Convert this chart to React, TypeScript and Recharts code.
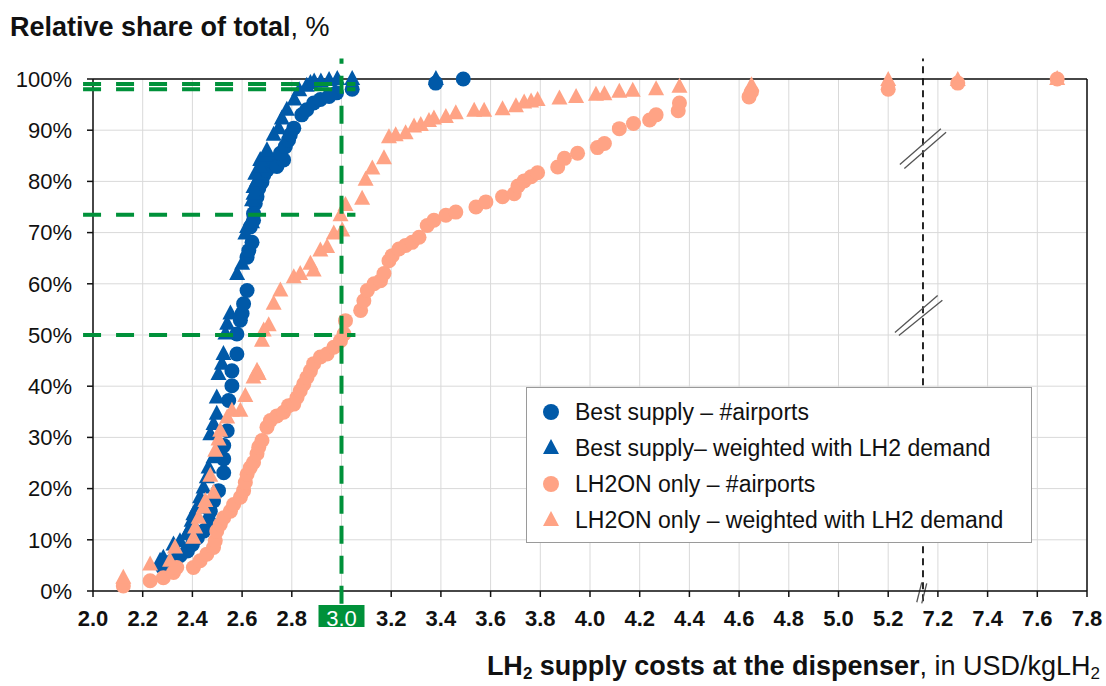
import React from "react";
import { ScatterChart, Scatter, XAxis, YAxis, CartesianGrid, ReferenceLine } from "recharts";

const BLUE = "#0059a8";
const ORANGE = "#ffa385";
const GREEN = "#00913a";
const FONT = "'Liberation Sans', Arial, sans-serif";

// x axis is broken between 5.2 and 7.2 (one tick step wide)
const X_TICK_LABELS = [2.0, 2.2, 2.4, 2.6, 2.8, 3.0, 3.2, 3.4, 3.6, 3.8, 4.0, 4.2, 4.4, 4.6, 4.8, 5.0, 5.2, 7.2, 7.4, 7.6, 7.8];
const Y_TICKS = [0, 10, 20, 30, 40, 50, 60, 70, 80, 90, 100];
const BREAK_LOW = 5.2;
const BREAK_HIGH = 7.2;
const BREAK_SHIFT = BREAK_HIGH - BREAK_LOW - 0.2;

const toAxis = (v: number) => (v >= BREAK_HIGH ? v - BREAK_SHIFT : v);
const fromAxis = (v: number) => (v > BREAK_LOW + 0.1 ? v + BREAK_SHIFT : v);

// [cost USD/kg, cumulative share %]
const bestSupplyAirports: [number, number][] = [
  [2.28, 4.6], [2.31, 3.9], [2.32, 5.9], [2.35, 6.9], [2.38, 7.8], [2.4, 9.1], [2.42, 10.4], [2.445, 11.7],
  [2.465, 13.7], [2.472, 15.6], [2.485, 17.6], [2.505, 19.6], [2.526, 23.1], [2.526, 25.8], [2.526, 28.4],
  [2.54, 31.3], [2.546, 37.2], [2.559, 40.1], [2.559, 43.0], [2.579, 46.3], [2.579, 50.2], [2.593, 52.9],
  [2.6, 54.2], [2.606, 56.1], [2.62, 58.7], [2.62, 65.2], [2.627, 66.5], [2.64, 68.1], [2.633, 71.1],
  [2.646, 72.4], [2.646, 73.7], [2.653, 75.7], [2.66, 77.0], [2.667, 78.6], [2.68, 79.9], [2.687, 81.2],
  [2.7, 82.2], [2.72, 83.9], [2.74, 82.9], [2.767, 84.2], [2.754, 85.5], [2.774, 86.8], [2.787, 88.1],
  [2.794, 89.1], [2.808, 90.4], [2.84, 93.0], [2.86, 94.0], [2.888, 95.3], [2.915, 96.0], [2.95, 96.6],
  [2.98, 97.3], [3.043, 98.0], [3.379, 99.2], [3.49, 100],
];

const bestSupplyWeighted: [number, number][] = [
  [2.27, 5.9], [2.283, 6.5], [2.324, 9.1], [2.35, 9.7], [2.377, 11.1], [2.384, 11.7], [2.397, 13.7],
  [2.404, 15.0], [2.418, 16.3], [2.431, 18.3], [2.445, 20.2], [2.458, 22.2], [2.465, 24.1], [2.485, 26.1],
  [2.472, 30.6], [2.485, 32.6], [2.498, 34.6], [2.498, 37.8], [2.505, 42.4], [2.519, 44.4], [2.525, 46.3],
  [2.533, 50.3], [2.54, 52.2], [2.553, 54.2], [2.58, 61.9], [2.6, 63.9], [2.613, 69.8], [2.62, 71.1],
  [2.64, 72.0], [2.64, 76.3], [2.646, 77.6], [2.646, 78.9], [2.66, 80.2], [2.653, 81.5], [2.673, 82.9],
  [2.673, 84.2], [2.693, 85.1], [2.7, 86.1], [2.727, 89.1], [2.747, 90.4], [2.76, 92.3], [2.78, 94.0],
  [2.81, 96.0], [2.83, 97.8], [2.86, 98.7], [2.875, 99.2], [2.89, 99.5], [2.917, 99.5], [2.95, 99.8],
  [2.983, 100], [3.043, 100], [3.38, 100],
];

const lh2onAirports: [number, number][] = [
  [2.122, 1.0], [2.23, 2.0], [2.283, 2.6], [2.324, 3.6], [2.337, 4.6], [2.404, 4.6], [2.431, 5.9],
  [2.458, 7.2], [2.485, 8.5], [2.492, 9.8], [2.498, 11.7], [2.512, 13.0], [2.526, 14.3], [2.553, 15.6],
  [2.566, 16.9], [2.593, 18.3], [2.606, 19.6], [2.613, 21.2], [2.62, 22.8], [2.633, 24.1], [2.646, 25.1],
  [2.66, 26.8], [2.667, 28.1], [2.68, 29.4], [2.7, 32.0], [2.714, 33.3], [2.74, 34.2], [2.767, 34.9],
  [2.787, 36.2], [2.808, 36.5], [2.821, 37.8], [2.834, 39.1], [2.848, 40.4], [2.861, 41.7], [2.875, 43.0],
  [2.888, 44.4], [2.915, 45.7], [2.942, 46.3], [2.969, 47.6], [2.996, 48.9], [3.01, 50.2], [3.016, 52.8],
  [3.077, 54.8], [3.09, 56.7], [3.104, 58.7], [3.131, 60.0], [3.157, 60.6], [3.171, 62.0], [3.191, 64.5],
  [3.204, 65.5], [3.231, 66.8], [3.258, 67.5], [3.284, 68.1], [3.312, 69.1], [3.345, 71.4], [3.372, 72.4],
  [3.42, 73.4], [3.46, 74.0], [3.541, 75.0], [3.581, 76.0], [3.648, 77.0], [3.695, 77.6], [3.71, 79.1],
  [3.735, 80.1], [3.763, 80.9], [3.789, 81.7], [3.87, 82.8], [3.897, 84.5], [3.95, 85.5], [4.03, 86.6],
  [4.058, 87.4], [4.118, 90.3], [4.175, 91.3], [4.24, 92.0], [4.266, 93.0], [4.355, 93.8], [4.36, 95.3],
  [4.64, 96.5], [4.65, 97.5], [5.2, 98.0], [7.28, 99.2], [7.68, 100],
];

const lh2onWeighted: [number, number][] = [
  [2.122, 2.6], [2.23, 5.2], [2.31, 5.9], [2.33, 8.5], [2.404, 10.4], [2.411, 12.4], [2.425, 14.3],
  [2.445, 16.3], [2.452, 17.6], [2.485, 19.2], [2.472, 22.5], [2.492, 27.4], [2.505, 29.6], [2.512, 31.3],
  [2.54, 33.9], [2.559, 35.2], [2.593, 35.2], [2.613, 38.1], [2.646, 41.7], [2.66, 43.0], [2.667, 42.4],
  [2.68, 48.9], [2.687, 50.9], [2.707, 51.9], [2.727, 56.1], [2.754, 58.7], [2.808, 61.3], [2.834, 61.9],
  [2.875, 63.9], [2.888, 62.6], [2.915, 66.5], [2.942, 67.2], [2.969, 69.8], [3.003, 70.4], [2.996, 73.4],
  [3.016, 75.4], [3.083, 76.6], [3.097, 80.3], [3.124, 82.5], [3.171, 84.5], [3.191, 88.6], [3.218, 89.0],
  [3.258, 89.4], [3.292, 90.7], [3.319, 91.0], [3.352, 91.8], [3.372, 92.3], [3.42, 92.6], [3.46, 93.3],
  [3.534, 93.8], [3.574, 93.8], [3.648, 94.1], [3.702, 94.7], [3.735, 95.4], [3.763, 95.6], [3.789, 95.9],
  [3.877, 96.2], [3.944, 96.5], [4.024, 96.9], [4.058, 97.0], [4.118, 97.5], [4.172, 97.7], [4.266, 98.0],
  [4.36, 98.5], [4.65, 98.8], [5.2, 99.8], [7.28, 99.8], [7.68, 100],
];

// green guide lines: 3.0 USD/kg and the shares reached at it
const GUIDE_COST = 3.0;
const GUIDE_SHARES = [99, 98, 73.5, 50];
// break decorations (axis units)
const BREAK_X = 5.34;
const BREAK_SLASHES = [
  [5.247, 83.3, 5.412, 90.3], [5.265, 82.5, 5.433, 89.6],
  [5.227, 50.5, 5.399, 57.7], [5.243, 49.9, 5.418, 56.8],
  [5.315, -2.2, 5.335, 1.7], [5.335, -2.4, 5.355, 1.5],
];

const toPoints = (pairs: [number, number][]) => pairs.map(([x, y]) => ({ x: toAxis(x), y }));

const Dot = (color: string) => (p: any) => <circle cx={p.cx} cy={p.cy} r={7.5} fill={color} />;
const Tri = (color: string) => (p: any) => (
  <path d={`M${p.cx},${p.cy - 9}L${p.cx + 8},${p.cy + 6}L${p.cx - 8},${p.cy + 6}Z`} fill={color} />
);

function XTick({ x, y, payload }: any) {
  const label = fromAxis(payload.value).toFixed(1);
  const hi = label === GUIDE_COST.toFixed(1);
  return (
    <g>
      {hi && <rect x={x - 23} y={y - 5} width={46} height={22} fill={GREEN} />}
      <text x={x} y={y} dy="0.71em" textAnchor="middle" fontSize={22} fontFamily={FONT}
        fontWeight={hi ? 400 : 700} fill={hi ? "#fff" : "#111"}>{label}</text>
    </g>
  );
}

const LEGEND = [
  { label: "Best supply – #airports", color: BLUE, tri: false },
  { label: "Best supply– weighted with LH2 demand", color: BLUE, tri: true },
  { label: "LH2ON only – #airports", color: ORANGE, tri: false },
  { label: "LH2ON only – weighted with LH2 demand", color: ORANGE, tri: true },
];

export default function App() {
  return (
    <div style={{ position: "absolute", left: 0, top: 0, width: 1106, height: 686, background: "#fff", fontFamily: FONT }}>
      <ScatterChart width={1106} height={686} margin={{ top: 79, right: 19, bottom: 55, left: 0 }}>
        <CartesianGrid stroke="#d9d9d9" strokeWidth={1} />
        <XAxis type="number" dataKey="x" domain={[2, toAxis(7.8)]} ticks={X_TICK_LABELS.map(toAxis)}
          interval={0} height={40} tick={<XTick />} tickSize={6} tickMargin={13}
          axisLine={{ stroke: "#111", strokeWidth: 1.5 }} tickLine={{ stroke: "#111", strokeWidth: 1.5 }} />
        <YAxis type="number" dataKey="y" domain={[0, 100]} ticks={Y_TICKS} width={93} interval={0}
          tickFormatter={(v: number) => `${v}%`} tickSize={6} tickMargin={15}
          tick={{ fontSize: 22, fill: "#111", fontFamily: FONT }}
          axisLine={{ stroke: "#111", strokeWidth: 1.5 }} tickLine={{ stroke: "#111", strokeWidth: 1.5 }} />
        <ReferenceLine y={100} stroke="#111" strokeWidth={1.5} zIndex={100} />
        <ReferenceLine x={toAxis(7.8)} stroke="#111" strokeWidth={1.5} zIndex={100} />
        <ReferenceLine segment={[{ x: BREAK_X, y: -2 }, { x: BREAK_X, y: 104 }]} stroke="#111"
          strokeWidth={1.8} strokeDasharray="7 5" ifOverflow="visible" zIndex={100} />
        {BREAK_SLASHES.map(([x1, y1, x2, y2], i) => (
          <ReferenceLine key={`s${i}`} segment={[{ x: x1, y: y1 }, { x: x2, y: y2 }]} stroke="#555"
            strokeWidth={1.3} ifOverflow="visible" zIndex={100} />
        ))}
        <Scatter name="Best supply – #airports" data={toPoints(bestSupplyAirports)} shape={Dot(BLUE)} isAnimationActive={false} />
        <Scatter name="Best supply– weighted with LH2 demand" data={toPoints(bestSupplyWeighted)} shape={Tri(BLUE)} isAnimationActive={false} />
        <Scatter name="LH2ON only – #airports" data={toPoints(lh2onAirports)} shape={Dot(ORANGE)} isAnimationActive={false} />
        <Scatter name="LH2ON only – weighted with LH2 demand" data={toPoints(lh2onWeighted)} shape={Tri(ORANGE)} isAnimationActive={false} />
        <ReferenceLine segment={[{ x: GUIDE_COST, y: -2.5 }, { x: GUIDE_COST, y: 104 }]} stroke={GREEN}
          strokeWidth={4} strokeDasharray="18 12" ifOverflow="visible" zIndex={900} />
        {GUIDE_SHARES.map((s) => (
          <ReferenceLine key={s} segment={[{ x: 1.96, y: s }, { x: 3.056, y: s }]} stroke={GREEN}
            strokeWidth={4} strokeDasharray="18 15" ifOverflow="visible" zIndex={900} />
        ))}
      </ScatterChart>

      <svg width={1106} height={686} style={{ position: "absolute", left: 0, top: 0, pointerEvents: "none" }}>
        <text x={10} y={36} fontSize={27} fill="#111" fontFamily={FONT}>
          <tspan fontWeight={700}>Relative share of total</tspan>
          <tspan>, %</tspan>
        </text>
        <text x={1100} y={675} textAnchor="end" fontSize={27} fill="#111" fontFamily={FONT}>
          <tspan fontWeight={700}>LH</tspan>
          <tspan fontWeight={700} fontSize={17} dy={4}>2</tspan>
          <tspan fontWeight={700} dy={-4}> supply costs at the dispenser</tspan>
          <tspan>, in USD/kgLH</tspan>
          <tspan fontSize={17} dy={4}>2</tspan>
        </text>
      </svg>

      <div style={{ position: "absolute", left: 526, top: 387, width: 504, height: 154, border: "1.5px solid #9a9a9a", background: "#fff" }}>
        {LEGEND.map((item, i) => (
          <div key={item.label} style={{ position: "absolute", left: 0, top: 6 + i * 36, height: 36, display: "flex", alignItems: "center" }}>
            <svg width={48} height={36}>
              {item.tri
                ? <path d="M24,9L32,24L16,24Z" fill={item.color} />
                : <circle cx={24} cy={18} r={8} fill={item.color} />}
            </svg>
            <span style={{ fontSize: 23, color: "#111", whiteSpace: "nowrap" }}>{item.label}</span>
          </div>
        ))}
      </div>
    </div>
  );
}
